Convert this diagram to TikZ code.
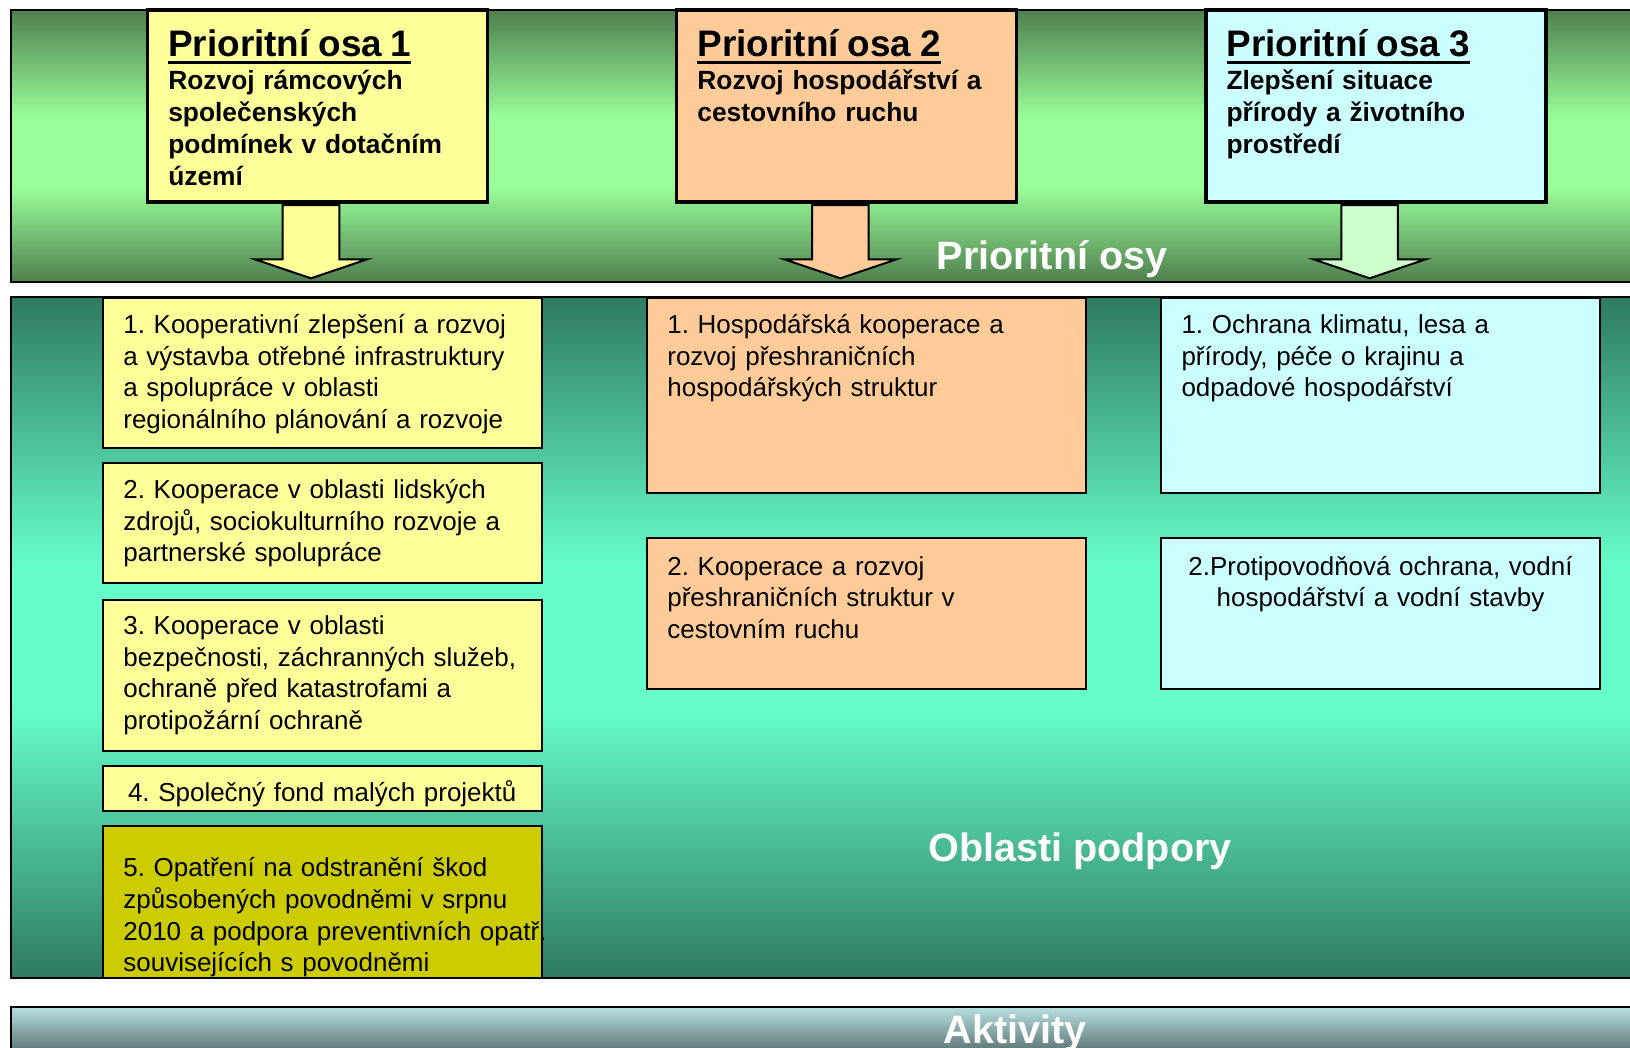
\documentclass[tikz,border=0pt]{standalone}
\usepackage{fontspec}
\setmainfont{Liberation Sans}
\frenchspacing

\definecolor{osydark}{HTML}{4F7F4F}
\definecolor{osylight}{HTML}{99FF99}
\definecolor{areadark}{HTML}{2F7A60}
\definecolor{arealight}{HTML}{66FFCC}
\definecolor{aktlight}{HTML}{B8E0E2}
\definecolor{aktdark}{HTML}{5F7878}
\definecolor{osa1}{HTML}{FFFF99}
\definecolor{osa2}{HTML}{FFCC99}
\definecolor{osa3}{HTML}{CCFFFF}
\definecolor{arr3}{HTML}{CCFFCC}
\definecolor{fund}{HTML}{CCCC00}

\pgfdeclareverticalshading{osyshade}{100bp}{color(0bp)=(osydark); color(25bp)=(osydark); color(42.5bp)=(osylight); color(55bp)=(osylight); color(75bp)=(osydark); color(100bp)=(osydark)}
\pgfdeclareverticalshading{areashade}{100bp}{color(0bp)=(areadark); color(25bp)=(areadark); color(45bp)=(arealight); color(55bp)=(arealight); color(75bp)=(areadark); color(100bp)=(areadark)}

% title of a priority axis, underlined
\newcommand{\osatitlefont}{\fontsize{10.5}{12}\selectfont}
\newcommand{\osaline}[1]{\setbox0\hbox{#1}\rlap{\rule[-2.15pt]{\wd0}{0.85pt}}\box0}

\tikzset{
  band/.style={draw,line width=0.02cm},
  bandlabel/.style={anchor=base,inner sep=0pt,text=white,font=\bfseries\fontsize{11.25}{13}\selectfont},
  osabox/.style={draw,line width=0.035cm,anchor=north west,inner sep=0pt,outer sep=0pt,minimum width=3.40cm,minimum height=1.92cm},
  osatext/.style={anchor=base west,align=left,text width=3.1cm,inner sep=0pt,font=\bfseries\fontsize{7.5}{9.02}\selectfont},
  blockarrow/.style={draw,line width=0.02cm,line join=miter},
  areabox/.style={draw,line width=0.02cm,anchor=north west,inner sep=0pt,outer sep=0pt,minimum width=4.39cm},
  areatext/.style={anchor=base west,align=left,text width=4.6cm,inner sep=0pt,font=\fontsize{7.39}{9.02}\selectfont},
  areamid/.style={areatext,anchor=base,align=center,text width=4.2cm}
}

\begin{document}
\begin{tikzpicture}
\useasboundingbox (0,0) rectangle (16.30,-10.47);

% Prioritni osy
\draw [band,shading=osyshade] (0.114,-0.10) rectangle (16.40,-2.82);
\draw
    (1.476,-0.10) node [osabox,fill=osa1] (osa1) {}
    +(0.20,-0.467) node [osatext] (osa1t) {{\osatitlefont\osaline{Prioritní osa 1}}\\[0.45pt] Rozvoj rámcových\\ společenských\\ podmínek v dotačním\\ území};
\draw
    (6.767,-0.10) node [osabox,fill=osa2] (osa2) {}
    +(0.20,-0.467) node [osatext] (osa2t) {{\osatitlefont\osaline{Prioritní osa 2}}\\[0.45pt] Rozvoj hospodářství a\\ cestovního ruchu};
\draw
    (12.058,-0.10) node [osabox,fill=osa3] (osa3) {}
    +(0.20,-0.467) node [osatext] (osa3t) {{\osatitlefont\osaline{Prioritní osa 3}}\\[0.45pt] Zlepšení situace\\ přírody a životního\\ prostředí};

\coordinate (tip1) at (3.110,-2.783);
\coordinate (tip2) at (8.404,-2.783);
\coordinate (tip3) at (13.696,-2.783);
\draw [blockarrow,fill=osa1] (tip1) -- +(-0.562,0.19) -- +(-0.283,0.19) -- +(-0.283,0.733) -- +(0.283,0.733) -- +(0.283,0.19) -- +(0.562,0.19) -- cycle;
\draw [blockarrow,fill=osa2] (tip2) -- +(-0.562,0.19) -- +(-0.283,0.19) -- +(-0.283,0.733) -- +(0.283,0.733) -- +(0.283,0.19) -- +(0.562,0.19) -- cycle;
\draw [blockarrow,fill=arr3] (tip3) -- +(-0.562,0.19) -- +(-0.283,0.19) -- +(-0.283,0.733) -- +(0.283,0.733) -- +(0.283,0.19) -- +(0.562,0.19) -- cycle;

\node [bandlabel] (osylabel) at (10.52,-2.693) {Prioritní osy};

% Oblasti podpory
\draw [band,shading=areashade] (0.114,-2.965) rectangle (16.40,-9.775);
\draw
    (1.027,-2.975) node [areabox,fill=osa1,minimum height=1.502cm] (a11) {}
    +(0.20,-0.358) node [areatext] (a11t) {1. Kooperativní zlepšení a rozvoj\\ a výstavba otřebné infrastruktury\\ a spolupráce v oblasti\\ regionálního plánování a rozvoje}
    (1.027,-4.633) node [areabox,fill=osa1,minimum height=1.20cm] (a12) {}
    +(0.20,-0.350) node [areatext] (a12t) {2. Kooperace v oblasti lidských\\ zdrojů, sociokulturního rozvoje a\\ partnerské spolupráce}
    (1.027,-6.000) node [areabox,fill=osa1,minimum height=1.505cm] (a13) {}
    +(0.20,-0.343) node [areatext] (a13t) {3. Kooperace v oblasti\\ bezpečnosti, záchranných služeb,\\ ochraně před katastrofami a\\ protipožární ochraně}
    (1.027,-7.661) node [areabox,fill=osa1,minimum height=0.447cm] (a14) {}
    +(2.195,-0.349) node [areamid] (a14t) {4. Společný fond malých projektů};
\begin{scope}
\clip (0.114,-2.965) rectangle (16.40,-9.775);
\draw
    (1.027,-8.257) node [areabox,fill=fund,minimum height=1.52cm] (a15) {}
    +(0.20,-0.510) node [areatext] (a15t) {5. Opatření na odstranění škod\\ způsobených povodněmi v srpnu\\ 2010 a podpora preventivních opatř.\\ souvisejících s povodněmi};
\end{scope}
\draw
    (6.467,-2.975) node [areabox,fill=osa2,minimum height=1.955cm] (a21) {}
    +(0.20,-0.358) node [areatext] (a21t) {1. Hospodářská kooperace a\\ rozvoj přeshraničních\\ hospodářských struktur}
    (6.467,-5.384) node [areabox,fill=osa2,minimum height=1.508cm] (a22) {}
    +(0.20,-0.366) node [areatext] (a22t) {2. Kooperace a rozvoj\\ přeshraničních struktur v\\ cestovním ruchu};
\draw
    (11.608,-2.975) node [areabox,fill=osa3,minimum height=1.955cm] (a31) {}
    +(0.20,-0.358) node [areatext] (a31t) {1. Ochrana klimatu, lesa a\\ přírody, péče o krajinu a\\ odpadové hospodářství}
    (11.608,-5.384) node [areabox,fill=osa3,minimum height=1.508cm] (a32) {}
    +(2.197,-0.366) node [areamid] (a32t) {2.Protipovodňová ochrana, vodní\\ hospodářství a vodní stavby};

\node [bandlabel] (podporalabel) at (10.80,-8.61) {Oblasti podpory};

% Aktivity
\draw [band,top color=aktlight,bottom color=aktdark] (0.114,-10.067) rectangle (16.40,-10.50);
\node [bandlabel] (aktivitylabel) at (10.15,-10.43) {Aktivity};
\end{tikzpicture}
\end{document}
